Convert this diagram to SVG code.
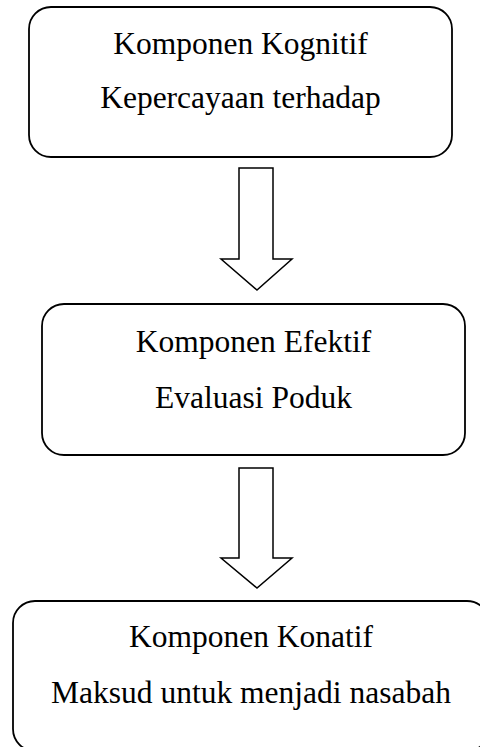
<svg xmlns="http://www.w3.org/2000/svg" width="480" height="747" viewBox="0 0 480 747">
<style>
.box{fill:#fff;stroke:#000;stroke-width:1.8}
.arr{fill:#fff;stroke:#000;stroke-width:1.5;stroke-linejoin:miter}
.t{font-family:"Liberation Serif","Times New Roman",serif;font-size:31.5px;fill:#000;text-anchor:middle}
</style>
<rect width="480" height="747" fill="#fff"/>
<g id="node1">
<rect class="box" x="29" y="7" width="423" height="150" rx="22" ry="22"/>
<text class="t" x="240.5" y="54">Komponen Kognitif</text>
<text class="t" x="240.5" y="108">Kepercayaan terhadap</text>
</g>
<g id="node2">
<rect class="box" x="42" y="304" width="423" height="151" rx="22" ry="22"/>
<text class="t" x="253.5" y="352">Komponen Efektif</text>
<text class="t" x="253.5" y="408">Evaluasi Poduk</text>
</g>
<g id="node3">
<rect class="box" x="13" y="601" width="476" height="150" rx="22" ry="22"/>
<text class="t" x="251" y="647">Komponen Konatif</text>
<text class="t" x="251" y="703">Maksud untuk menjadi nasabah</text>
</g>
<g id="connectors">
<polygon class="arr" points="239,168 273,168 273,259 292,259 257,290 221,259 239,259"/>
<polygon class="arr" points="239,468 273,468 273,558 292,558 257,588 221,558 239,558"/>
</g>
</svg>
